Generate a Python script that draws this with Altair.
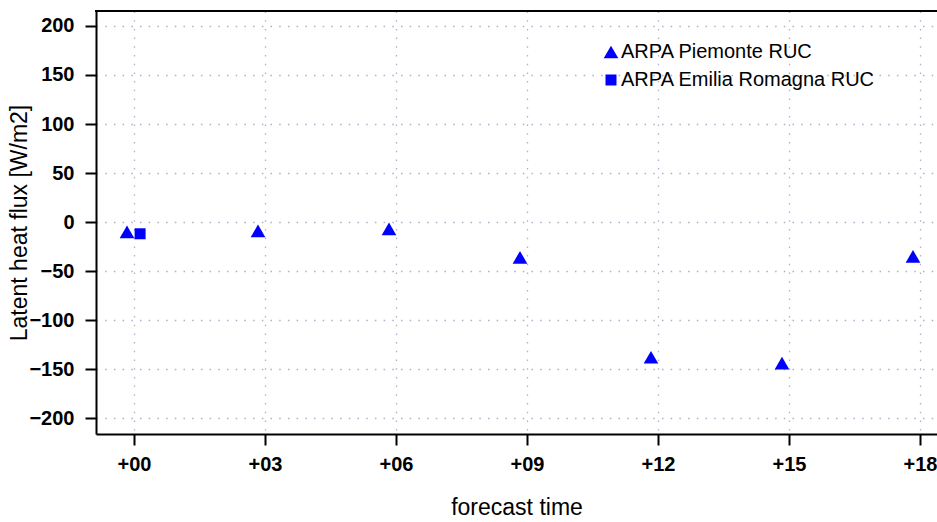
import altair as alt
import pandas as pd

# Forecast lead times (hours) and latent heat flux values [W/m2]
hours = [0, 3, 6, 9, 12, 15, 18]
piemonte_flux = [-10, -9, -7, -36, -138, -144, -35]
emilia_hours = [0]
emilia_flux = [-12]

series_names = ["ARPA Piemonte RUC", "ARPA Emilia Romagna RUC"]
x_ticks = [0, 3, 6, 9, 12, 15, 18]
y_ticks = [-200, -150, -100, -50, 0, 50, 100, 150, 200]

W, H = 841, 423
BLUE = "#0000ff"
FONT = "Liberation Sans"

df = pd.concat([
    pd.DataFrame({"hour": hours, "flux": piemonte_flux, "series": series_names[0]}),
    pd.DataFrame({"hour": emilia_hours, "flux": emilia_flux, "series": series_names[1]}),
], ignore_index=True)

points = alt.Chart(df).transform_calculate(
    # small horizontal dodge so the two sources don't overlap
    xpos=f"datum.series == '{series_names[0]}' ? datum.hour - 0.16 : datum.hour + 0.14"
).mark_point(filled=True, opacity=1, strokeWidth=0).encode(
    x=alt.X("xpos:Q",
            scale=alt.Scale(domain=[-0.87, 18.39], nice=False, zero=False),
            axis=alt.Axis(values=x_ticks, title="forecast time",
                          labelExpr="'+' + (datum.value < 10 ? '0' : '') + datum.value",
                          labelPadding=9, titlePadding=22)),
    y=alt.Y("flux:Q",
            scale=alt.Scale(domain=[-216.3, 215.3], nice=False, zero=False),
            axis=alt.Axis(values=y_ticks, title="Latent heat flux [W/m2]",
                          labelPadding=11, titlePadding=-3)),
    shape=alt.Shape("series:N",
                    scale=alt.Scale(domain=series_names, range=["triangle-up", "square"]),
                    legend=alt.Legend(title=None, orient="none", legendX=505, legendY=31,
                                      labelFontSize=20, labelFont=FONT, labelColor="black",
                                      labelOffset=0, rowPadding=8, padding=0, labelLimit=0,
                                      symbolStrokeWidth=0)),
    color=alt.Color("series:N",
                    scale=alt.Scale(domain=series_names, range=[BLUE, BLUE])),
    size=alt.Size("series:N",
                  scale=alt.Scale(domain=series_names, range=[215, 121])),
)

# top edge of the plot frame
frame_top = alt.Chart(pd.DataFrame({"k": [0]})).mark_rule(
    color="black", strokeWidth=2
).encode(x=alt.value(-1), x2=alt.value(W), y=alt.value(0))

chart = alt.layer(points, frame_top).properties(
    width=W, height=H,
    autosize=alt.AutoSizeParams(type="none"),
    padding={"left": 96, "top": 11, "right": 0, "bottom": 88},
).configure_view(
    stroke=None
).configure_axis(
    domainColor="black", domainWidth=2,
    tickColor="black", tickWidth=2, tickSize=11,
    labelFont=FONT, labelFontSize=20, labelFontWeight="bold", labelColor="black",
    titleFont=FONT, titleFontSize=23, titleFontWeight="normal", titleColor="black",
    grid=True, gridColor="#a0a0c4", gridDash=[1.5, 7.2], gridWidth=1.3, gridOpacity=0.85,
    labelFlush=False, labelOverlap=False,
)

chart.save("out.html", embed_options={"renderer": "svg", "actions": False})
